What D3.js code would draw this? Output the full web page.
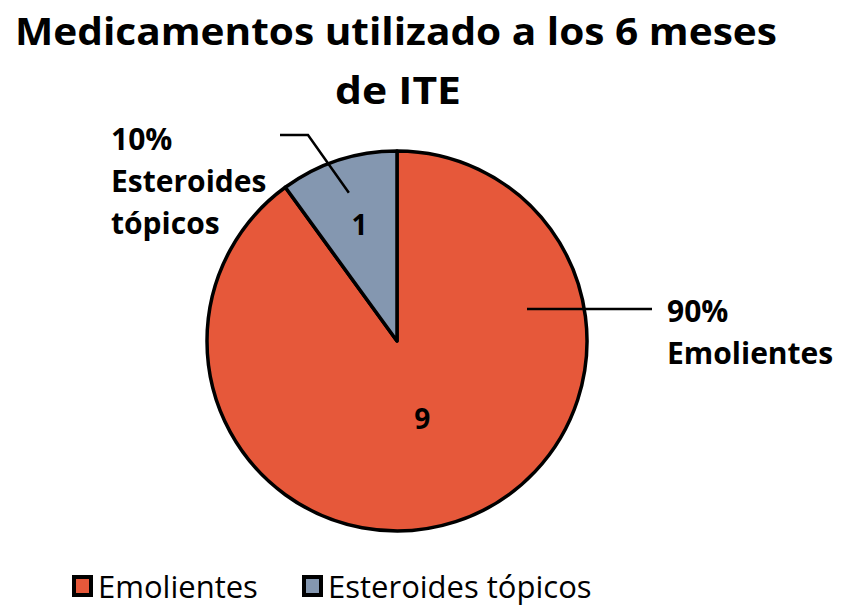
<!DOCTYPE html>
<html>
<head>
<meta charset="utf-8">
<script src="https://cdn.jsdelivr.net/npm/d3@7"></script>
<style>
  body { margin: 0; background: #fff; }
  svg { display: block; font-family: 'Open Sans', sans-serif; }
</style>
</head>
<body>
<div id="chart"></div>
<script>
// data
const categories = ['Emolientes', 'Esteroides tópicos']
const values = [9, 1]
const colors = ['#E6583A', '#8497B0']
const titleLines = ['Medicamentos utilizado a los 6 meses', 'de ITE']

const W = 842, H = 608
const cx = 397, cy = 341, r = 190

const svg = d3.select('#chart').append('svg')
    .attr('width', W).attr('height', H)

// title, condensed a little to match the original width
svg.append('text')
    .attr('x', 15).attr('y', 45)
    .attr('font-size', 38).attr('font-weight', 700)
    .attr('textLength', 762).attr('lengthAdjust', 'spacingAndGlyphs')
    .text(titleLines[0])
svg.append('text')
    .attr('x', 398).attr('y', 104)
    .attr('text-anchor', 'middle')
    .attr('font-size', 38).attr('font-weight', 700)
    .attr('textLength', 126).attr('lengthAdjust', 'spacingAndGlyphs')
    .text(titleLines[1])

const data = categories.map((c, i) => ({ name: c, value: values[i], color: colors[i] }))
const total = d3.sum(values)
const pct = d3.format('.0%')

const pie = d3.pie().sort(null).value(d => d.value)
const arc = d3.arc().innerRadius(0).outerRadius(r)
const arcs = pie(data)

const g = svg.append('g').attr('transform', `translate(${cx},${cy})`)

g.selectAll('path')
    .data(arcs)
    .join('path')
    .attr('d', arc)
    .attr('fill', d => d.data.color)
    .attr('stroke', '#000')
    .attr('stroke-width', 3.5)
    .attr('stroke-linejoin', 'round')

// value labels inside slices
const inner = [d3.arc().innerRadius(0).outerRadius(r * 0.86), d3.arc().innerRadius(0).outerRadius(r * 1.28)]
g.selectAll('text.val')
    .data(arcs)
    .join('text')
    .attr('class', 'val')
    .attr('transform', (d, i) => {
        const p = inner[i].centroid(d)
        return `translate(${p[0]},${p[1]})`
    })
    .attr('text-anchor', 'middle')
    .attr('dy', '0.35em')
    .attr('font-size', 28).attr('font-weight', 700)
    .text(d => d.value)

// leader lines and outside labels
const leader = d3.line()
const est = arcs[1]
g.append('path')
    .attr('d', leader([[130, -32], [255, -32]]))
    .attr('stroke', '#000').attr('stroke-width', 2.5).attr('fill', 'none')

const pIn1 = d3.arc().innerRadius(r * 0.82).outerRadius(r * 0.82).centroid(est)
g.append('path')
    .attr('d', leader([[pIn1[0], pIn1[1]], [-89, -206], [-117, -206]]))
    .attr('stroke', '#000').attr('stroke-width', 2.5).attr('fill', 'none')

const lab = svg.append('g').attr('font-size', 30).attr('font-weight', 700)
lab.append('text').attr('x', 667).attr('y', 322).text(pct(values[0] / total))
lab.append('text').attr('x', 667).attr('y', 364).text(categories[0])

lab.append('text').attr('x', 111).attr('y', 150).text(pct(values[1] / total))
lab.append('text').attr('x', 111).attr('y', 192).text('Esteroides')
lab.append('text').attr('x', 111).attr('y', 234).text('tópicos')

// legend
const legendX = [72, 302]
const legend = svg.append('g')
    .selectAll('g')
    .data(data)
    .join('g')
    .attr('transform', (d, i) => `translate(${legendX[i]},575)`)

legend.append('rect')
    .attr('x', 2).attr('y', 2)
    .attr('width', 17).attr('height', 18)
    .attr('fill', d => d.color)
    .attr('stroke', '#000').attr('stroke-width', 4)

legend.append('text')
    .attr('x', 26).attr('y', 23)
    .attr('font-size', 31)
    .text(d => d.name)
</script>
</body>
</html>
